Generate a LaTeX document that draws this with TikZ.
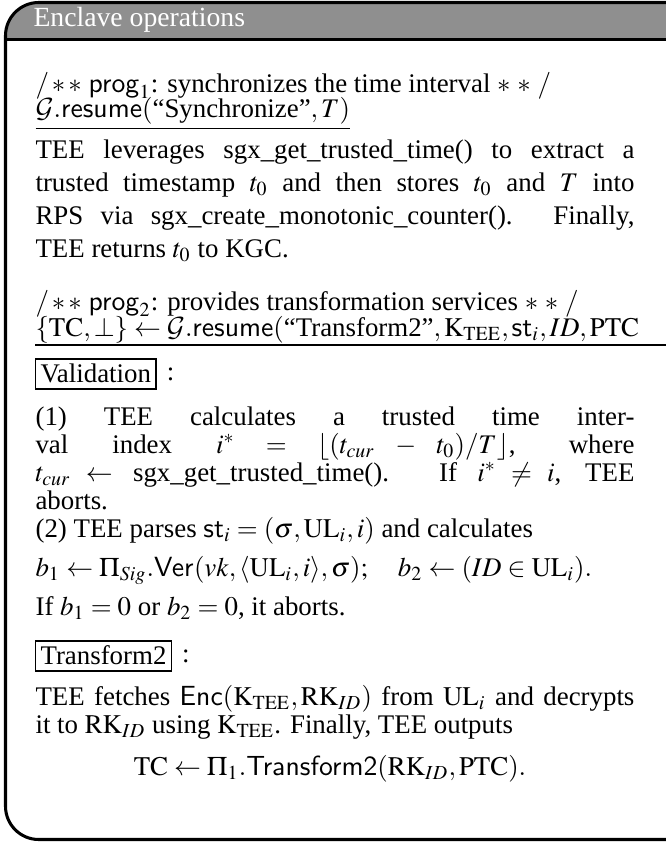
\documentclass[tikz,border=0pt]{standalone}
\usepackage{amsmath}
\usepackage{mathptmx}
\usepackage{fontspec}
\setmainfont{Liberation Serif}
\setsansfont{Liberation Sans}
\DeclareMathAlphabet{\mathcal}{OMS}{cmsy}{m}{n}
\definecolor{titlegray}{RGB}{143,143,143}
\newcommand\colw{216.2pt}
\newcommand\jline[1]{\makebox[\colw][s]{#1}}
\tikzset{
  txt/.style={anchor=base west, inner sep=0pt},
  lbox/.style={draw, line width=0.4pt, inner xsep=1.8pt, inner ysep=1.6pt, text height=7pt, text depth=0.6pt, anchor=west},
  frameline/.style={line width=1.1pt}
}
\begin{document}
\begin{tikzpicture}[x=0.361pt, y=-0.361pt, font=\fontsize{9.7}{11.6}\selectfont]
\useasboundingbox (0,0) rectangle (666,843);
\begin{scope}
\clip (0,0) rectangle (666,843);
% title bar
\fill[titlegray, rounded corners=12] (5.5,39.5) -- (5.5,2.5) -- (720,2.5) [sharp corners] -- (720,39.5);
\draw[frameline] (5.5,39.5) -- (720,39.5);
\draw[frameline, rounded corners=12] (720,2.5) -- (5.5,2.5) -- (5.5,839.5) -- (720,839.5);
\node[txt, text=white, font=\fontsize{10}{12}\selectfont] (title) at (33,26) {Enclave operations};

% prog1 header
\node[txt] (p1a) at (35,92) {$/\,{\ast}\,{\ast}$ $\mathsf{prog}_1$: synchronizes the time interval $\ast\,\ast\,/$};
\node[txt] (p1b) at (35,118) {\underline{$\mathcal{G}.\mathsf{resume}(\text{``Synchronize''},T)$}};

% paragraph 1
\node[txt] (a1) at (35,158) {\jline{TEE leverages sgx\_get\_trusted\_time() to extract a}};
\node[txt] (a2) at (35,191) {\jline{trusted timestamp $t_0$ and then stores $t_0$ and $T$ into}};
\node[txt] (a3) at (35,224) {\jline{RPS via sgx\_create\_monotonic\_counter(). Finally,}};
\node[txt] (a4) at (35,257) {TEE returns $t_0$ to KGC.};

% prog2 header
\node[txt] (p2a) at (35,310) {$/\,{\ast}\,{\ast}$ $\mathsf{prog}_2$: provides transformation services $\ast\,\ast\,/$};
\node[txt] (p2b) at (35,336) {$\{\mathrm{TC},\perp\}\leftarrow\mathcal{G}.\mathsf{resume}(\text{``Transform2''},\mathrm{K}_{\mathrm{TEE}},\mathsf{st}_i,ID,\mathrm{PTC}$};
\coordinate (u2) at (720,345);
\draw[line width=0.4pt] (35,345) -- (u2);

% validation
\node[lbox] (val) at (35,374) {Validation};
\node[anchor=west, inner sep=0pt] (valc) at ([xshift=3.5pt]val.east) {:};

\node[txt] (b1) at (35,425) {\jline{(1) TEE calculates a trusted time inter-}};
\node[txt] (b2) at (35,453) {\jline{val index $i^* = \lfloor (t_{cur} - t_0)/T\rfloor$, where}};
\node[txt] (b3) at (35,481) {\jline{$t_{cur} \leftarrow$ sgx\_get\_trusted\_time(). If $i^* \neq i$, TEE}};
\node[txt] (b4) at (35,509) {aborts.};
\node[txt] (b5) at (35,537) {(2) TEE parses $\mathsf{st}_i = (\sigma, \mathrm{UL}_i, i)$ and calculates};
\node[txt] (b6) at (35,576) {$b_1 \leftarrow \Pi_{Sig}.\mathsf{Ver}(vk, \langle \mathrm{UL}_i, i\rangle, \sigma);\quad b_2 \leftarrow (ID \in \mathrm{UL}_i).$};
\node[txt] (b7) at (35,615) {If $b_1 = 0$ or $b_2 = 0$, it aborts.};

% transform2
\node[lbox] (tr) at (35,656) {Transform2};
\node[anchor=west, inner sep=0pt] (trc) at ([xshift=3.5pt]tr.east) {:};

\node[txt] (c1) at (35,705) {\jline{TEE fetches $\mathsf{Enc}(\mathrm{K}_{\mathrm{TEE}}, \mathrm{RK}_{ID})$ from $\mathrm{UL}_i$ and decrypts}};
\node[txt] (c2) at (35,733) {it to $\mathrm{RK}_{ID}$ using $\mathrm{K}_{\mathrm{TEE}}$. Finally, TEE outputs};
\node[anchor=base, inner sep=0pt] (c3) at (330,775) {$\mathrm{TC} \leftarrow \Pi_1.\mathsf{Transform2}(\mathrm{RK}_{ID}, \mathrm{PTC}).$};
\end{scope}
\end{tikzpicture}
\end{document}
